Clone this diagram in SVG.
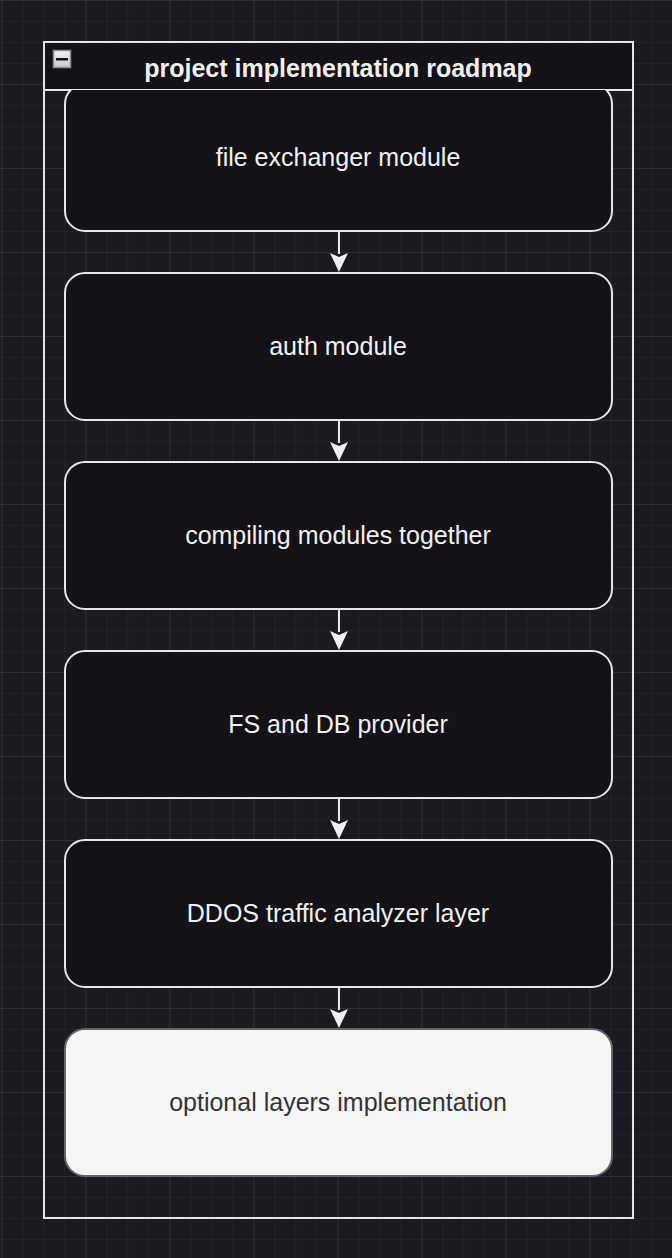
<svg xmlns="http://www.w3.org/2000/svg" width="672" height="1258" viewBox="0 0 672 1258">
<defs>
<pattern id="minor" width="21" height="21" patternUnits="userSpaceOnUse" x="1.3" y="0">
<path d="M0 0H21M0 0V21" fill="none" stroke="#2c2a31" stroke-width="1"/>
</pattern>
<pattern id="major" width="84" height="84" patternUnits="userSpaceOnUse" x="1.3" y="0">
<path d="M0 0H84M0 0V84" fill="none" stroke="#3a383f" stroke-width="1"/>
</pattern>
<linearGradient id="btn" x1="0" y1="0" x2="0" y2="1">
<stop offset="0" stop-color="#f2f2f2"/>
<stop offset="1" stop-color="#c8c8c8"/>
</linearGradient>
<clipPath id="cont"><rect x="44" y="90" width="589" height="1128"/></clipPath>
</defs>
<style>
.node{fill:#141217;stroke:#e6e6e6;stroke-width:2}
.lbl{font-family:"Liberation Sans",Arial,sans-serif;font-size:25px;fill:#f0f0f0;text-anchor:middle;dominant-baseline:central}
.conn{stroke:#e6e6e6;stroke-width:2;fill:none}
.head{fill:#f0f0f0}
</style>
<rect width="672" height="1258" fill="#1c1a20"/>
<rect width="672" height="1258" fill="url(#minor)"/>
<rect width="672" height="1258" fill="url(#major)"/>
<g id="container">
<rect x="44" y="42" width="589" height="1176" fill="none" stroke="#e6e6e6" stroke-width="2"/>
<rect x="45" y="43" width="587" height="47" fill="#141217"/>
<line x1="44" y1="90" x2="633" y2="90" stroke="#e6e6e6" stroke-width="2"/>
<text x="338" y="68" class="lbl" style="font-weight:bold">project implementation roadmap</text>
<rect x="53.5" y="50.5" width="17" height="17" fill="url(#btn)" stroke="#8a8f99" stroke-width="1.5"/>
<rect x="56" y="58" width="12" height="2.5" fill="#111"/>
</g>
<g clip-path="url(#cont)">
<g id="node1"><rect class="node" x="65" y="84" width="547" height="147" rx="20"/><text class="lbl" x="338" y="157">file exchanger module</text></g>
</g>
<g id="node2"><rect class="node" x="65" y="273" width="547" height="147" rx="20"/><text class="lbl" x="338" y="346">auth module</text></g>
<g id="node3"><rect class="node" x="65" y="462" width="547" height="147" rx="20"/><text class="lbl" x="338" y="535">compiling modules together</text></g>
<g id="node4"><rect class="node" x="65" y="651" width="547" height="147" rx="20"/><text class="lbl" x="338" y="724">FS and DB provider</text></g>
<g id="node5"><rect class="node" x="65" y="840" width="547" height="147" rx="20"/><text class="lbl" x="338" y="913">DDOS traffic analyzer layer</text></g>
<g id="node6"><rect x="65" y="1029" width="547" height="147" rx="20" fill="#f5f5f5" stroke="#666666" stroke-width="2"/><text class="lbl" x="338" y="1102" style="fill:#333333">optional layers implementation</text></g>
<g id="connectors">
<path class="conn" d="M339 231V254"/><path class="head" d="M330 253L339 272L348 253L339 257Z"/>
<path class="conn" d="M339 420V443"/><path class="head" d="M330 442L339 461L348 442L339 446Z"/>
<path class="conn" d="M339 609V632"/><path class="head" d="M330 631L339 650L348 631L339 635Z"/>
<path class="conn" d="M339 798V821"/><path class="head" d="M330 820L339 839L348 820L339 824Z"/>
<path class="conn" d="M339 987V1010"/><path class="head" d="M330 1009L339 1028L348 1009L339 1013Z"/>
</g>
</svg>
